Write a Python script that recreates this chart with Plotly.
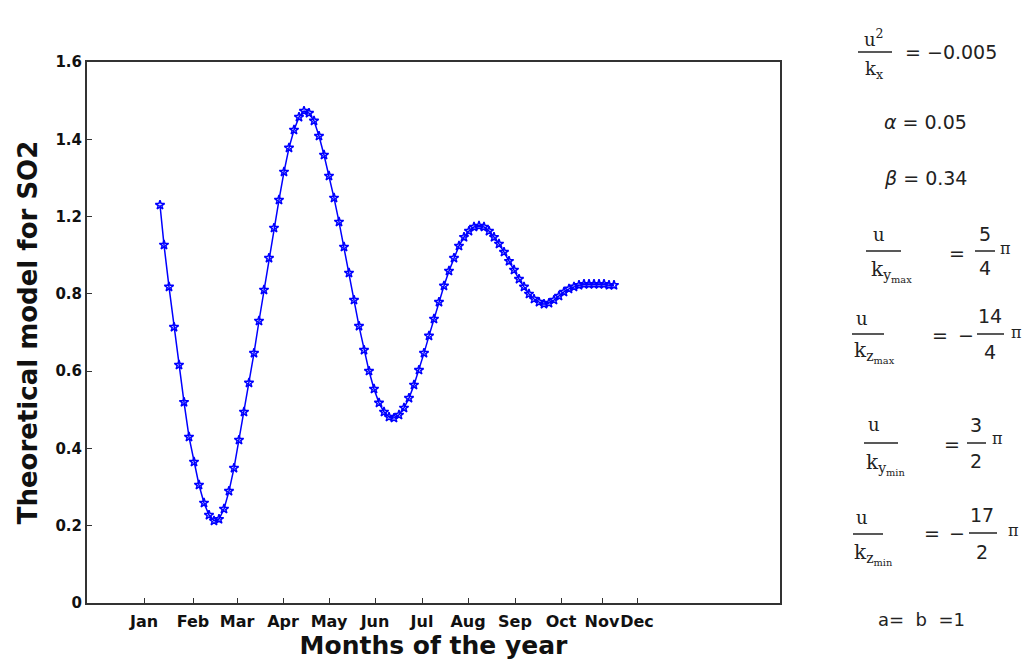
import plotly.graph_objects as go

# ---- data ----
x_vals = [1.46, 1.54, 1.64, 1.74, 1.84, 1.94, 2.04, 2.14, 2.24, 2.34, 2.44, 2.54, 2.64, 2.74, 2.84,
          2.94, 3.04, 3.14, 3.24, 3.34, 3.44, 3.54, 3.64, 3.74, 3.84, 3.94, 4.04, 4.14, 4.24, 4.34,
          4.44, 4.54, 4.64, 4.74, 4.84, 4.94, 5.04, 5.14, 5.24, 5.34, 5.44, 5.54, 5.64, 5.74, 5.84,
          5.94, 6.04, 6.14, 6.24, 6.34, 6.44, 6.54, 6.64, 6.74, 6.84, 6.94, 7.04, 7.14, 7.24, 7.34,
          7.44, 7.54, 7.64, 7.74, 7.84, 7.94, 8.04, 8.14, 8.24, 8.34, 8.44, 8.54, 8.64, 8.74, 8.84,
          8.94, 9.04, 9.14, 9.24, 9.34, 9.44, 9.54, 9.64, 9.74, 9.84, 9.94, 10.04, 10.14, 10.24,
          10.34, 10.44, 10.54]
so2_model = [1.177, 1.059, 0.935, 0.816, 0.704, 0.594, 0.491, 0.417, 0.349, 0.296, 0.260, 0.243,
             0.248, 0.278, 0.331, 0.399, 0.482, 0.565, 0.651, 0.739, 0.834, 0.926, 1.020, 1.109,
             1.192, 1.275, 1.346, 1.399, 1.437, 1.455, 1.449, 1.426, 1.381, 1.325, 1.263, 1.198,
             1.127, 1.053, 0.976, 0.896, 0.819, 0.748, 0.686, 0.633, 0.592, 0.565, 0.550, 0.547,
             0.556, 0.577, 0.606, 0.645, 0.689, 0.739, 0.790, 0.840, 0.890, 0.938, 0.982, 1.020,
             1.056, 1.082, 1.100, 1.112, 1.115, 1.112, 1.100, 1.082, 1.062, 1.038, 1.011, 0.985,
             0.958, 0.935, 0.914, 0.899, 0.890, 0.884, 0.887, 0.896, 0.908, 0.920, 0.929, 0.935,
             0.940, 0.943, 0.943, 0.943, 0.943, 0.943, 0.940, 0.940]

month_labels = ["Jan", "Feb", "Mar", "Apr", "May", "Jun", "Jul", "Aug", "Sep", "Oct", "Nov", "Dec"]
month_ticks = [1.14, 2.12, 3.0, 3.92, 4.84, 5.76, 6.70, 7.62, 8.56, 9.48, 10.30, 11.0]
y_tick_labels = ["0", "0.2", "0.4", "0.6", "0.8", "1.2", "1.4", "1.6"]

X_RANGE = [0, 13.86]
Y_RANGE = [0, 1.6]
y_tick_pos = [Y_RANGE[1] * k / (len(y_tick_labels) - 1) for k in range(len(y_tick_labels))]

BLUE = "#0000ff"
fig = go.Figure()
fig.add_trace(go.Scatter(
    x=x_vals, y=so2_model, mode="lines+markers",
    line=dict(color=BLUE, width=1.5),
    marker=dict(symbol="star-open", size=7, color=BLUE, line=dict(width=1.5, color=BLUE)),
    showlegend=False,
))

# plot area in pixels
L, R, T, B = 87, 780, 62, 603
W, H = 1025, 661


def px(xp):
    return (xp - L) / (R - L)


def py(yp):
    return (B - yp) / (B - T)


MATH = dict(family="DejaVu Sans", size=18, color="#222")
ann = []
shapes = []


def text(x, y, s, size=18, xanchor="center", family="DejaVu Sans"):
    ann.append(dict(x=px(x), y=py(y), xref="paper", yref="paper", text=s, showarrow=False,
                    xanchor=xanchor, yanchor="middle",
                    font=dict(MATH, size=size, family=family)))


def bar(x0, x1, y):
    shapes.append(dict(type="line", xref="paper", yref="paper", x0=px(x0), x1=px(x1),
                       y0=py(y), y1=py(y), line=dict(color="#222", width=1.5)))


SER = "DejaVu Serif"
# row 1
text(874, 38, "u<sup>2</sup>", family=SER)
bar(858, 892, 52)
text(874, 70, "k<sub>x</sub>", family=SER)
text(903, 52, "= −0.005", xanchor="left", size=19)
# rows 2,3
text(926, 122, "<i>α</i> = 0.05", size=19)
text(926, 178, "<i>β</i> = 0.34", size=19)
# row 4
text(879, 234, "u", family=SER)
bar(866, 901, 251)
text(869, 271, "k<sub>y<sub>max</sub></sub>", xanchor="left", size=20, family=SER)
text(957, 253, "=", size=19)
text(985, 234, "5", size=19)
bar(975, 995, 251)
text(985, 268, "4", size=19)
text(998, 248, "π", xanchor="left", size=16, family=SER)
# row 5
text(862, 318, "u", family=SER)
bar(852, 884, 334)
text(852, 352, "k<sub>z<sub>max</sub></sub>", xanchor="left", size=20, family=SER)
text(940, 335, "=", size=19)
text(966, 335, "−", size=19)
text(990, 316, "14", size=19)
bar(977, 1004, 334)
text(990, 352, "4", size=19)
text(1009, 332, "π", xanchor="left", size=16, family=SER)
# row 6
text(874, 424, "u", family=SER)
bar(864, 898, 443)
text(864, 464, "k<sub>y<sub>min</sub></sub>", xanchor="left", size=20, family=SER)
text(952, 444, "=", size=19)
text(976, 425, "3", size=19)
bar(967, 986, 443)
text(976, 461, "2", size=19)
text(990, 439, "π", xanchor="left", size=16, family=SER)
# row 7
text(862, 517, "u", family=SER)
bar(853, 883, 534)
text(852, 554, "k<sub>z<sub>min</sub></sub>", xanchor="left", size=20, family=SER)
text(932, 533, "=", size=19)
text(957, 533, "−", size=19)
text(982, 515, "17", size=19)
bar(969, 997, 533)
text(982, 552, "2", size=19)
text(1006, 530, "π", xanchor="left", size=16, family=SER)
# row 8
text(921, 619, "a=&nbsp;&nbsp;b&nbsp;&nbsp;=1", size=18)

AX = dict(showline=True, linecolor="#333", linewidth=2, mirror=True, ticks="inside",
          ticklen=5, tickcolor="#333", tickwidth=1, showgrid=False, zeroline=False,
          automargin=False)

fig.update_xaxes(range=X_RANGE, tickvals=month_ticks, ticktext=month_labels, tickangle=0,
                 tickfont=dict(family="DejaVu Sans", size=16, color="#111", weight="bold"),
                 ticklabelstandoff=3,
                 title=dict(text="Months of the year", standoff=0,
                            font=dict(family="DejaVu Sans", size=25, color="#111", weight="bold")),
                 **AX)
fig.update_yaxes(range=Y_RANGE, tickvals=y_tick_pos, ticktext=y_tick_labels,
                 tickfont=dict(family="DejaVu Sans", size=15, color="#111", weight="bold"),
                 title=dict(text="Theoretical model for SO2", standoff=10,
                            font=dict(family="DejaVu Sans", size=26, color="#111", weight="bold")),
                 **AX)

fig.update_layout(width=W, height=H, margin=dict(l=L, r=W - R, t=T, b=H - B, autoexpand=False),
                  plot_bgcolor="white", paper_bgcolor="white",
                  annotations=ann, shapes=shapes)

fig.write_html("out.html", config={"displayModeBar": False},
               post_script="document.body.style.margin='0px';")
